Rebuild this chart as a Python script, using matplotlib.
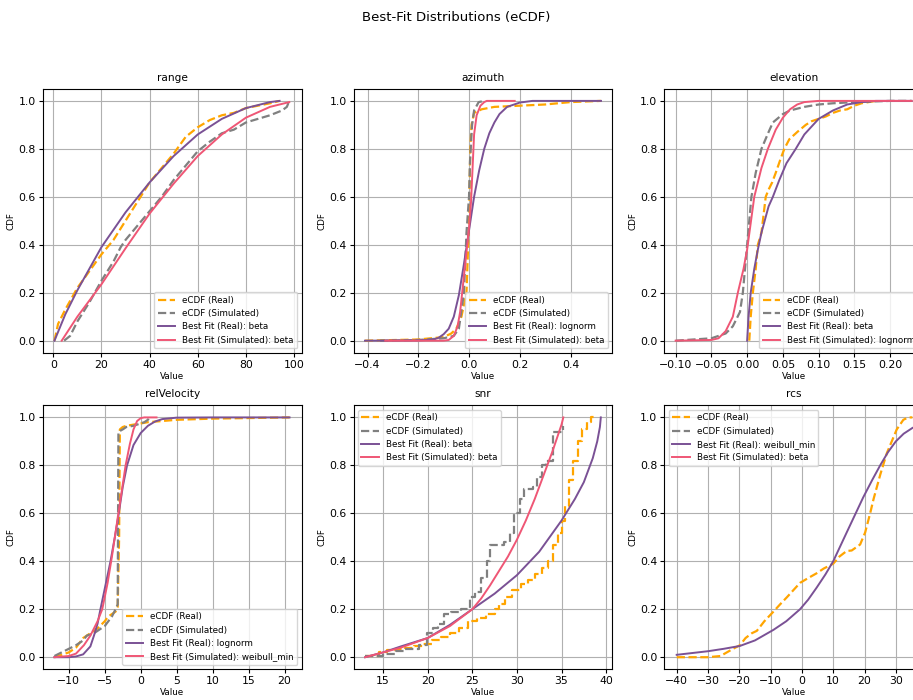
import matplotlib
matplotlib.use("Agg")
import matplotlib.pyplot as plt
from matplotlib.ticker import MultipleLocator

features = ["range", "azimuth", "elevation", "relVelocity", "snr", "rcs"]
fit_real_names = ["beta", "lognorm", "beta", "lognorm", "beta", "weibull_min"]
fit_sim_names = ["beta", "beta", "lognorm", "weibull_min", "beta", "beta"]

# ---- range
range_real_x = [0.5, 2, 5, 10, 15, 20, 25, 30, 35, 40, 45, 50, 55, 60, 65, 70, 75, 80, 85, 90, 94]
range_real_y = [0.0, 0.07, 0.13, 0.22, 0.29, 0.36, 0.42, 0.50, 0.58, 0.66, 0.72, 0.78, 0.85, 0.89, 0.92, 0.94, 0.95, 0.97, 0.98, 0.99, 1.0]
range_sim_x = [4.5, 7, 10, 15, 20, 25, 28, 30, 35, 40, 45, 50, 55, 60, 65, 70, 75, 80, 85, 90, 95, 97, 98]
range_sim_y = [0.0, 0.02, 0.08, 0.16, 0.25, 0.33, 0.39, 0.42, 0.48, 0.54, 0.60, 0.67, 0.73, 0.79, 0.83, 0.865, 0.88, 0.91, 0.925, 0.94, 0.96, 0.975, 1.0]
range_fit_real_x = [0.5, 5, 10, 20, 30, 40, 50, 60, 70, 80, 90, 94]
range_fit_real_y = [0.0, 0.11, 0.21, 0.39, 0.535, 0.66, 0.77, 0.86, 0.925, 0.97, 0.995, 1.0]
range_fit_sim_x = [3.5, 10, 20, 30, 40, 50, 60, 70, 80, 90, 98]
range_fit_sim_y = [0.0, 0.1, 0.235, 0.385, 0.53, 0.655, 0.77, 0.86, 0.93, 0.975, 0.995]

# ---- azimuth
az_real_x = [-0.41, -0.2, -0.15, -0.1, -0.07, -0.05, -0.03, -0.01, 0.0, 0.005, 0.01, 0.02, 0.05, 0.1, 0.2, 0.3, 0.35, 0.4, 0.52]
az_real_y = [0.0, 0.005, 0.01, 0.015, 0.03, 0.05, 0.1, 0.2, 0.5, 0.8, 0.9, 0.95, 0.965, 0.975, 0.98, 0.985, 0.99, 0.995, 1.0]
az_sim_x = [-0.35, -0.2, -0.1, -0.06, -0.04, -0.02, -0.01, 0.0, 0.004, 0.012, 0.02, 0.038, 0.06]
az_sim_y = [0.0, 0.003, 0.01, 0.02, 0.05, 0.2, 0.45, 0.6, 0.75, 0.9, 0.96, 0.995, 1.0]
az_fit_real_x = [-0.41, -0.2, -0.14, -0.12, -0.1, -0.08, -0.06, -0.04, -0.02, 0.0, 0.02, 0.04, 0.06, 0.08, 0.1, 0.12, 0.15, 0.2, 0.25, 0.52]
az_fit_real_y = [0.0, 0.001, 0.005, 0.012, 0.027, 0.05, 0.1, 0.19, 0.32, 0.46, 0.6, 0.71, 0.8, 0.865, 0.91, 0.945, 0.975, 0.993, 1.0, 1.0]
az_fit_sim_x = [-0.33, -0.1, -0.08, -0.06, -0.045, -0.035, -0.027, -0.015, 0.0, 0.008, 0.014, 0.02, 0.03, 0.045, 0.06, 0.07, 0.18]
az_fit_sim_y = [0.0, 0.0, 0.003, 0.02, 0.06, 0.12, 0.2, 0.32, 0.47, 0.58, 0.72, 0.86, 0.94, 0.98, 0.995, 1.0, 1.0]

# ---- elevation
el_real_x = [0.003, 0.005, 0.008, 0.012, 0.015, 0.02, 0.026, 0.03, 0.035, 0.04, 0.047, 0.052, 0.059, 0.07, 0.082, 0.09, 0.1, 0.11, 0.12, 0.13, 0.14, 0.15, 0.16, 0.18]
el_real_y = [0.0, 0.1, 0.2, 0.3, 0.4, 0.45, 0.6, 0.63, 0.66, 0.7, 0.76, 0.8, 0.84, 0.87, 0.9, 0.915, 0.925, 0.935, 0.95, 0.96, 0.965, 0.98, 0.99, 1.0]
el_sim_x = [-0.1, -0.05, -0.03, -0.02, -0.01, -0.006, 0.0, 0.006, 0.012, 0.02, 0.03, 0.036, 0.05, 0.06, 0.08, 0.1, 0.12, 0.15, 0.2, 0.23]
el_sim_y = [0.0, 0.01, 0.03, 0.06, 0.12, 0.2, 0.4, 0.6, 0.7, 0.8, 0.87, 0.91, 0.945, 0.96, 0.975, 0.985, 0.99, 0.995, 1.0, 1.0]
el_fit_real_x = [0.0, 0.002, 0.005, 0.01, 0.015, 0.02, 0.03, 0.036, 0.045, 0.055, 0.068, 0.08, 0.1, 0.12, 0.14, 0.16, 0.18, 0.23]
el_fit_real_y = [0.0, 0.1, 0.2, 0.3, 0.38, 0.45, 0.56, 0.6, 0.67, 0.74, 0.8, 0.86, 0.925, 0.96, 0.985, 0.995, 1.0, 1.0]
el_fit_sim_x = [-0.1, -0.05, -0.04, -0.03, -0.02, -0.013, -0.005, 0.0, 0.01, 0.02, 0.029, 0.04, 0.05, 0.06, 0.07, 0.08, 0.1, 0.23]
el_fit_sim_y = [0.0, 0.003, 0.01, 0.04, 0.1, 0.2, 0.3, 0.38, 0.6, 0.72, 0.8, 0.88, 0.93, 0.965, 0.985, 0.995, 1.0, 1.0]

# ---- relVelocity
rv_real_x = [-12, -11, -10, -9, -8.5, -8, -7.5, -7, -6.5, -6, -5, -4.5, -4, -3.5, -3.2, -3.0, -2.9, -2.5, -2, -1, 0, 1, 3, 5, 10, 20.7]
rv_real_y = [0.0, 0.01, 0.02, 0.04, 0.06, 0.08, 0.09, 0.1, 0.11, 0.12, 0.15, 0.17, 0.18, 0.19, 0.21, 0.5, 0.95, 0.96, 0.965, 0.97, 0.975, 0.98, 0.985, 0.99, 0.995, 1.0]
rv_sim_x = [-12, -11, -10, -9, -8, -7.5, -7, -6.5, -6, -5, -4.5, -4, -3.5, -3.2, -3.1, -2.5, -2, -1, 0, 0.5, 1, 1.2]
rv_sim_y = [0.005, 0.02, 0.035, 0.05, 0.07, 0.09, 0.095, 0.1, 0.11, 0.13, 0.15, 0.17, 0.2, 0.22, 0.94, 0.95, 0.96, 0.965, 0.975, 0.98, 0.99, 1.0]
rv_fit_real_x = [-12, -10, -9, -8, -7, -6.5, -6, -5.6, -4.9, -4.2, -3.6, -3.05, -2.5, -1.9, -1, 0, 1, 2, 3, 5, 10, 20.7]
rv_fit_real_y = [0.0, 0.0, 0.003, 0.012, 0.045, 0.09, 0.14, 0.2, 0.3, 0.4, 0.5, 0.6, 0.71, 0.8, 0.885, 0.935, 0.965, 0.983, 0.993, 0.999, 1.0, 1.0]
rv_fit_sim_x = [-12, -10, -9, -7.9, -7, -6, -5.35, -4.6, -4, -3, -2.1, -1.5, -1, -0.5, 0, 0.5, 2.2]
rv_fit_sim_y = [0.0, 0.005, 0.015, 0.05, 0.09, 0.15, 0.2, 0.31, 0.42, 0.62, 0.8, 0.89, 0.95, 0.985, 0.997, 1.0, 1.0]

# ---- snr (step eCDFs)
snr_real_x = [13.0, 14.5, 15.5, 16.5, 17.5, 18.5, 19.5, 20.5, 21.5, 22.5, 23.5, 24.5, 25.5, 26.5, 27.5, 28.0, 28.7, 29.5, 30.5, 31.2, 32.0, 32.8, 33.5, 34.0, 34.6, 35.0, 35.4, 35.8, 36.3, 36.8, 37.3, 37.8, 38.3, 39.0]
snr_real_y = [0.005, 0.02, 0.03, 0.035, 0.04, 0.045, 0.055, 0.07, 0.085, 0.1, 0.12, 0.15, 0.165, 0.18, 0.2, 0.22, 0.25, 0.28, 0.305, 0.32, 0.345, 0.37, 0.4, 0.47, 0.52, 0.57, 0.63, 0.74, 0.82, 0.9, 0.95, 0.98, 1.0, 1.0]
snr_sim_x = [13.0, 15.0, 16.5, 17.5, 19.0, 19.9, 20.6, 21.2, 21.8, 22.6, 23.7, 24.8, 25.3, 26.0, 26.6, 27.0, 28.5, 29.2, 29.7, 30.3, 30.8, 31.8, 32.3, 32.8, 33.3, 34.0, 35.2]
snr_sim_y = [0.005, 0.015, 0.025, 0.035, 0.05, 0.1, 0.12, 0.14, 0.18, 0.19, 0.2, 0.25, 0.27, 0.33, 0.4, 0.47, 0.48, 0.52, 0.6, 0.66, 0.7, 0.71, 0.75, 0.8, 0.82, 0.94, 0.965]
snr_fit_real_x = [13, 15, 17, 20, 22.5, 25, 27.5, 30, 32.5, 35, 36.5, 37.5, 38.5, 39, 39.3, 39.4]
snr_fit_real_y = [0.0, 0.02, 0.045, 0.08, 0.135, 0.2, 0.265, 0.342, 0.44, 0.57, 0.66, 0.73, 0.83, 0.9, 0.96, 1.0]
snr_fit_sim_x = [13, 15, 17, 20, 22.5, 25, 26, 27, 28, 29, 30, 31, 32, 33, 34, 35, 35.2]
snr_fit_sim_y = [0.0, 0.02, 0.04, 0.08, 0.13, 0.2, 0.245, 0.3, 0.36, 0.42, 0.49, 0.57, 0.66, 0.76, 0.86, 0.97, 1.0]

# ---- rcs (no simulated data)
rcs_real_x = [-40, -30, -26, -24, -22, -19.8, -18, -16, -14.4, -12, -9.1, -7, -4.8, -2, -0.6, 2, 4.7, 7, 10, 12, 14.3, 15.9, 18.6, 20.2, 21.8, 22.9, 25, 27.1, 28.7, 30.3, 32.4, 34, 35.3]
rcs_real_y = [0.0, 0.0, 0.005, 0.02, 0.035, 0.05, 0.08, 0.1, 0.11, 0.15, 0.19, 0.22, 0.25, 0.29, 0.31, 0.33, 0.35, 0.37, 0.39, 0.42, 0.443, 0.445, 0.47, 0.52, 0.6, 0.66, 0.76, 0.85, 0.9, 0.95, 0.99, 1.0, 1.0]
rcs_sim_x = []
rcs_sim_y = []
rcs_fit_real_x = [-40, -30, -25, -19.8, -15, -9.1, -5, -0.6, 2, 4.7, 7.5, 10, 14.3, 19.6, 22.5, 25, 27.5, 30, 32.5, 35.3]
rcs_fit_real_y = [0.01, 0.025, 0.035, 0.047, 0.07, 0.114, 0.15, 0.2, 0.24, 0.29, 0.345, 0.4, 0.52, 0.667, 0.74, 0.8, 0.855, 0.9, 0.932, 0.956]
rcs_fit_sim_x = []
rcs_fit_sim_y = []

panels = [
    (range_real_x, range_real_y, range_sim_x, range_sim_y, range_fit_real_x, range_fit_real_y, range_fit_sim_x, range_fit_sim_y),
    (az_real_x, az_real_y, az_sim_x, az_sim_y, az_fit_real_x, az_fit_real_y, az_fit_sim_x, az_fit_sim_y),
    (el_real_x, el_real_y, el_sim_x, el_sim_y, el_fit_real_x, el_fit_real_y, el_fit_sim_x, el_fit_sim_y),
    (rv_real_x, rv_real_y, rv_sim_x, rv_sim_y, rv_fit_real_x, rv_fit_real_y, rv_fit_sim_x, rv_fit_sim_y),
    (snr_real_x, snr_real_y, snr_sim_x, snr_sim_y, snr_fit_real_x, snr_fit_real_y, snr_fit_sim_x, snr_fit_sim_y),
    (rcs_real_x, rcs_real_y, rcs_sim_x, rcs_sim_y, rcs_fit_real_x, rcs_fit_real_y, rcs_fit_sim_x, rcs_fit_sim_y),
]
xlims = [(-4.3, 103.2), (-0.455, 0.565), (-0.116, 0.246), (-13.6, 22.4), (11.7, 40.7), (-44.0, 38.7)]
xtick_steps = [20, 0.2, 0.05, 5, 5, 10]
legend_locs = ["lower right", "lower right", "lower right", "lower right", "upper left", "upper left"]

fig, axes = plt.subplots(2, 3, figsize=(9.13, 7), dpi=100)
fig.subplots_adjust(left=0.047, right=1.011, bottom=0.044, top=0.873, wspace=0.2, hspace=0.2)

for i, ax in enumerate(axes.flat):
    rx, ry, sx, sy, frx, fry, fsx, fsy = panels[i]
    step = "steps-post" if features[i] == "snr" else "default"
    ax.plot(rx, ry, linestyle="--", color="orange", linewidth=1.6, drawstyle=step, label="eCDF (Real)")
    ax.plot(sx, sy, linestyle="--", color="gray", linewidth=1.6, drawstyle=step, label="eCDF (Simulated)")
    ax.plot(frx, fry, color="#7a5195", linewidth=1.4, label="Best Fit (Real): " + fit_real_names[i])
    ax.plot(fsx, fsy, color="#ef5675", linewidth=1.4, label="Best Fit (Simulated): " + fit_sim_names[i])
    ax.set_xlim(xlims[i])
    ax.set_ylim(-0.05, 1.05)
    ax.xaxis.set_major_locator(MultipleLocator(xtick_steps[i]))
    ax.yaxis.set_major_locator(MultipleLocator(0.2))
    ax.set_title(features[i], fontsize=7.6)
    ax.set_xlabel("Value", fontsize=6.3, labelpad=1.5)
    ax.set_ylabel("CDF", fontsize=6.3, labelpad=2)
    ax.tick_params(labelsize=7.8, length=3, pad=2)
    ax.grid(True)
    ax.legend(loc=legend_locs[i], fontsize=6.3)

fig.suptitle("Best-Fit Distributions (eCDF)", fontsize=9.5, y=0.985)
plt.savefig("out.png", dpi=100)
